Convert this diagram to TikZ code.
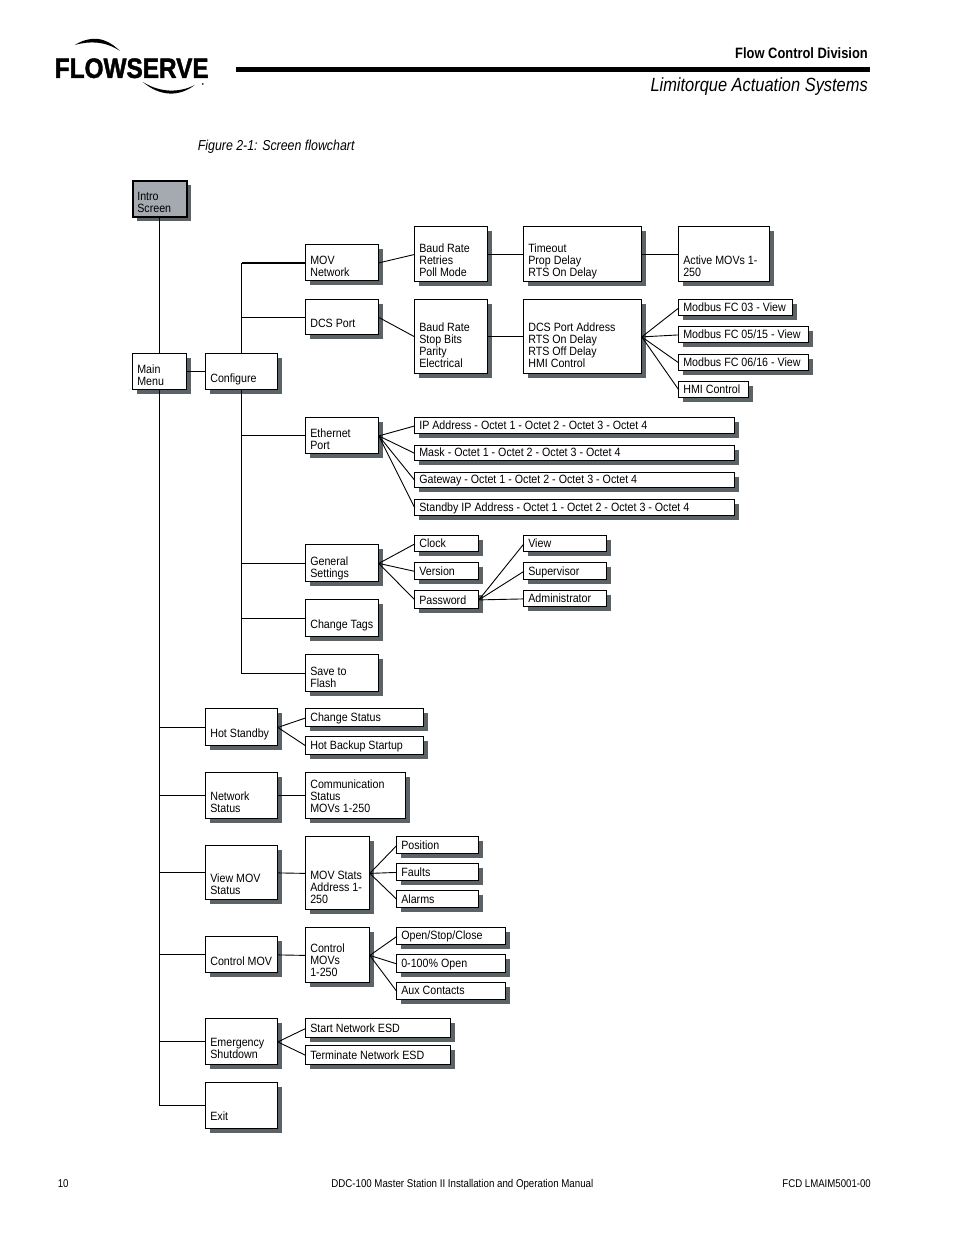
\documentclass[tikz,border=0pt]{standalone}
\usepackage{fontspec}
\setmainfont{Liberation Sans}
\newfontfamily\cond[FakeStretch=0.89]{Liberation Sans}
\newfontfamily\condf[FakeStretch=0.86]{Liberation Sans}
\newfontfamily\condb[FakeStretch=0.86]{Liberation Sans Bold}
\newfontfamily\condi[FakeStretch=0.86]{Liberation Sans Italic}
\newfontfamily\logof[FakeStretch=0.87,FakeBold=1.5]{Liberation Sans Bold}
\usetikzlibrary{shadows,calc}
\definecolor{shd}{HTML}{5C6366}
\definecolor{intro}{HTML}{A5AAB1}
\tikzset{
  bxs/.style={draw=black,line width=1pt,fill=white,inner sep=0pt,outer sep=0pt,anchor=north west,
    copy shadow={shadow xshift=4pt,shadow yshift=-4pt,fill=shd,draw=none}},
  lnk/.style={draw=black,line width=0.9pt},
  tlnk/.style={draw=black,line width=2pt},
  lbl/.style={inner sep=0pt,outer sep=0pt,text=black}
}
\newcommand{\bx}[8][]{%
  \pgfmathsetlengthmacro{\bxw}{(#5-#3)*1pt}%
  \pgfmathsetlengthmacro{\bxh}{(#6-#4)*1pt}%
  \pgfmathsetlengthmacro{\bxg}{(#7-3)*1pt}%
  \node[bxs,#1] (#2) at (#3,#4) {\parbox[b][\bxh][b]{\bxw}{\cond\fontsize{12}{12}\selectfont\leftskip=4.5pt\rightskip=0pt plus 1fil\parindent=0pt #8\rule[-3pt]{0pt}{3pt}\par\vspace*{\bxg}}};}
\begin{document}
\begin{tikzpicture}[x=1pt,y=-1pt]
\useasboundingbox (0,0) rectangle (954,1235);
\fill[white] (0,0) rectangle (954,1235);
\begin{scope}[xshift=-0.2pt,yshift=0.1pt]
% header
\node[lbl,anchor=base west] (logo) at (55,78) {\logof\fontsize{28}{28}\selectfont FLOWSERVE};
\fill[black] (75,45) .. controls (90,36) and (105,36) .. (120,51) .. controls (105,41) and (90,41) .. (75,45) -- cycle;
\fill[black] (143,82) .. controls (160,97) and (180,97) .. (195,85) .. controls (180,93) and (160,93) .. (143,82) -- cycle;
\fill[black] (203,84) circle (0.9);
\fill[black] (236,67) rectangle (870,72);
\node[lbl,anchor=base east] (division) at (868,59) {\condb\fontsize{15}{15}\selectfont Flow Control Division};
\node[lbl,anchor=base east] (limit) at (868,92) {\condi\fontsize{19.1}{20}\selectfont Limitorque Actuation Systems};
\node[lbl,anchor=base west] (figcap) at (198,151) {\condi\fontsize{14.4}{15}\selectfont Figure 2-1: Screen flowchart};
% footer
\node[lbl,anchor=base west] (pg) at (58,1188) {\condf\fontsize{11.3}{12}\selectfont 10};
\node[lbl,anchor=base] (title) at (462.5,1188) {\condf\fontsize{11.3}{12}\selectfont DDC-100 Master Station II Installation and Operation Manual};
\node[lbl,anchor=base east] (fcd) at (871,1188) {\condf\fontsize{11.2}{12}\selectfont FCD LMAIM5001-00};
% boxes
\bx[fill=intro,line width=1.4pt]{intro}{133}{181}{187}{217}{4}{Intro\\Screen}
\bx{main}{133}{354}{187}{390}{4}{Main\\Menu}
\bx{conf}{206}{354}{278}{390}{7}{Configure}
\bx{mov}{306}{245}{379}{281}{4}{MOV\\Network}
\bx{dcs}{306}{300}{379}{335}{7}{DCS Port}
\bx{baudA}{415}{227}{488}{282}{5}{Baud Rate\\Retries\\Poll Mode}
\bx{baudB}{415}{300}{488}{374}{6}{Baud Rate\\Stop Bits\\Parity\\Electrical}
\bx{timeout}{524}{227}{642}{282}{5}{Timeout\\Prop Delay\\RTS On Delay}
\bx{dcsaddr}{524}{300}{642}{374}{6}{DCS Port Address\\RTS On Delay\\RTS Off Delay\\HMI Control}
\bx{active}{679}{227}{770}{282}{5}{Active MOVs 1-\\250}
\bx{mbA}{679}{300}{793}{316}{4}{Modbus FC 03 - View}
\bx{mbB}{679}{327}{809}{343}{4}{Modbus FC 05/15 - View}
\bx{mbC}{679}{355}{809}{371}{4}{Modbus FC 06/16 - View}
\bx{hmi}{679}{382}{749}{398}{4}{HMI Control}
\bx{eth}{306}{418}{379}{454}{4}{Ethernet\\Port}
\bx{ip}{415}{418}{735}{434}{4}{IP Address - Octet 1 - Octet 2 - Octet 3 - Octet 4}
\bx{mask}{415}{446}{735}{461}{4}{Mask - Octet 1 - Octet 2 - Octet 3 - Octet 4}
\bx{gate}{415}{473}{735}{488}{4}{Gateway - Octet 1 - Octet 2 - Octet 3 - Octet 4}
\bx{stand}{415}{500}{735}{516}{4}{Standby IP Address - Octet 1 - Octet 2 - Octet 3 - Octet 4}
\bx{gen}{306}{545}{379}{582}{4}{General\\Settings}
\bx{clock}{415}{536}{479}{552}{4}{Clock}
\bx{version}{415}{563}{479}{580}{4}{Version}
\bx{pass}{415}{591}{479}{609}{4}{Password}
\bx{view}{524}{536}{607}{552}{4}{View}
\bx{super}{524}{563}{607}{580}{4}{Supervisor}
\bx{admin}{524}{591}{607}{607}{4}{Administrator}
\bx{tags}{306}{600}{379}{637}{8}{Change Tags}
\bx{save}{306}{655}{379}{692}{4}{Save to\\Flash}
\bx{hot}{206}{709}{278}{746}{8}{Hot Standby}
\bx{chg}{306}{709}{424}{727}{5}{Change Status}
\bx{backup}{306}{737}{424}{755}{5}{Hot Backup Startup}
\bx{net}{206}{773}{278}{819}{6}{Network\\Status}
\bx{comm}{306}{773}{406}{819}{6}{Communication\\Status\\MOVs 1-250}
\bx{vmov}{206}{846}{278}{900}{5}{View MOV\\Status}
\bx{stats}{306}{837}{370}{910}{6}{MOV Stats\\Address 1-\\250}
\bx{posn}{397}{837}{479}{854}{4}{Position}
\bx{faults}{397}{864}{479}{881}{4}{Faults}
\bx{alarms}{397}{891}{479}{908}{4}{Alarms}
\bx{cmov}{206}{937}{278}{973}{7}{Control MOV}
\bx{cmovs}{306}{928}{370}{983}{6}{Control\\MOVs\\1-250}
\bx{open}{397}{928}{506}{945}{5}{Open/Stop/Close}
\bx{pct}{397}{955}{506}{973}{5}{0-100\% Open}
\bx{aux}{397}{983}{506}{1000}{5}{Aux Contacts}
\bx{esd}{206}{1019}{278}{1065}{6}{Emergency\\Shutdown}
\bx{start}{306}{1019}{451}{1038}{5}{Start Network ESD}
\bx{term}{306}{1046}{451}{1065}{5}{Terminate Network ESD}
\bx{exit}{206}{1083}{278}{1129}{8}{Exit}
% trunks
\draw[lnk] (intro.south) -- (main.north);
\draw[lnk] (main.east) -- (conf.west);
\draw[lnk] (conf.north) |- (dcs.west);
\draw[lnk] (conf.north) -- (conf.north |- mov.west);
\draw[tlnk] (conf.north |- mov.west) -- (mov.west);
\draw[lnk] (conf.south) |- (eth.west);
\draw[lnk] (conf.south) |- (gen.west);
\draw[lnk] (conf.south) |- (tags.west);
\draw[lnk] (conf.south) |- (save.west);
\draw[lnk] (main.south) |- (hot.west);
\draw[lnk] (main.south) |- (net.west);
\draw[lnk] (main.south) |- (vmov.west);
\draw[lnk] (main.south) |- (cmov.west);
\draw[lnk] (main.south) |- (esd.west);
\draw[lnk] (main.south) |- (exit.west);
% straight links
\draw[lnk] (mov.east) -- (baudA.west);
\draw[lnk] (dcs.east) -- (baudB.west);
\draw[lnk] (baudA.east) -- (timeout.west);
\draw[lnk] (baudB.east) -- (dcsaddr.west);
\draw[lnk] (timeout.east) -- (active.west);
\foreach \t in {mbA,mbB,mbC,hmi} \draw[lnk] (dcsaddr.east) -- (\t.west);
\foreach \t in {ip,mask,gate,stand} \draw[lnk] (eth.east) -- (\t.west);
\foreach \t in {clock,version,pass} \draw[lnk] (gen.east) -- (\t.west);
\foreach \t in {view,super,admin} \draw[lnk] (pass.east) -- (\t.west);
\foreach \t in {chg,backup} \draw[lnk] (hot.east) -- (\t.west);
\draw[lnk] (net.east) -- (comm.west);
\draw[lnk] (vmov.east) -- (stats.west);
\foreach \t in {posn,faults,alarms} \draw[lnk] (stats.east) -- (\t.west);
\draw[lnk] (cmov.east) -- (cmovs.west);
\foreach \t in {open,pct,aux} \draw[lnk] (cmovs.east) -- (\t.west);
\foreach \t in {start,term} \draw[lnk] (esd.east) -- (\t.west);
\end{scope}
\end{tikzpicture}
\end{document}
